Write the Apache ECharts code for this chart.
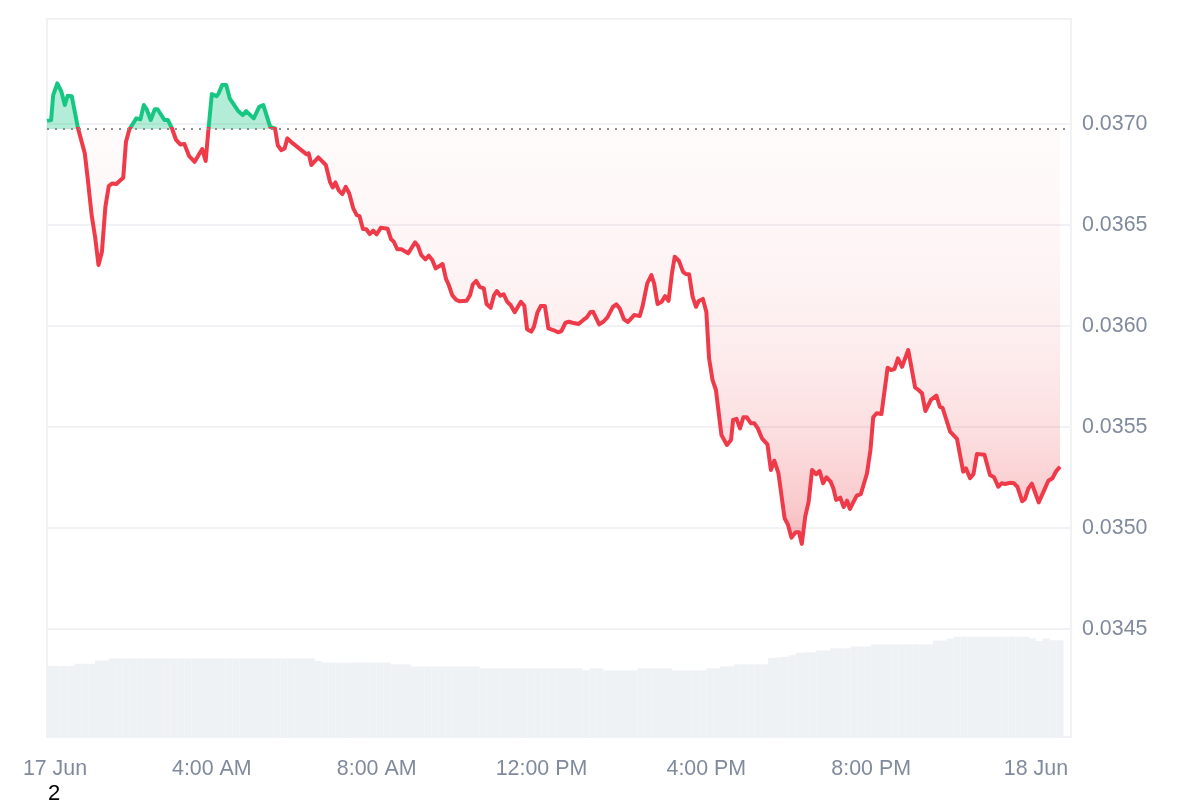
<!DOCTYPE html>
<html>
<head>
<meta charset="utf-8">
<title>Price chart</title>
<script src="https://cdn.jsdelivr.net/npm/echarts@6/dist/echarts.min.js"></script>
<style>
html,body{margin:0;padding:0;background:#fff;overflow:hidden}
#main{width:1200px;height:800px}
</style>
</head>
<body>
<div id="main"></div>
<script>
// minutes since 17 Jun 00:00
var minutes = [0,6,9,15,21,26,30,36,40,45,55,59,65,70,75,80,85,90,95,101,106,111,115,120,130,136,141,145,151,157,161,171,176,182,188,194,200,207,215,226,231,235,240,247,250,255,261,266,278,285,290,301,309,315,325,332,336,341,346,350,358,378,381,385,395,406,412,416,420,425,430,435,440,446,451,455,460,465,470,475,480,486,496,501,505,510,516,526,536,540,545,551,556,561,566,576,581,585,590,596,601,611,616,620,625,630,636,640,646,651,655,660,665,670,675,681,690,695,699,705,709,714,719,725,730,737,744,749,755,760,765,774,781,786,791,795,804,810,816,824,829,834,840,846,855,863,867,874,880,884,889,895,900,905,910,914,920,926,930,935,940,945,949,955,960,964,969,974,982,990,996,999,1004,1009,1014,1019,1025,1030,1035,1041,1049,1054,1059,1065,1074,1079,1084,1090,1095,1099,1104,1109,1114,1120,1125,1130,1135,1141,1145,1149,1155,1160,1165,1169,1179,1185,1194,1199,1203,1208,1215,1224,1229,1234,1239,1245,1254,1264,1269,1274,1279,1287,1295,1300,1304,1315,1325,1334,1338,1344,1349,1354,1365,1373,1379,1385,1390,1395,1403,1408,1413,1420,1424,1429,1434,1444,1451,1458,1464,1469,1475];
var prices = [0.037016,0.037020,0.037143,0.037201,0.037160,0.037094,0.037140,0.037138,0.037069,0.036981,0.036855,0.036739,0.036549,0.036442,0.036302,0.036368,0.036590,0.036693,0.036706,0.036703,0.036719,0.036734,0.036912,0.036974,0.037028,0.037023,0.037094,0.037074,0.037020,0.037073,0.037073,0.037020,0.037020,0.036978,0.036921,0.036899,0.036901,0.036841,0.036813,0.036876,0.036817,0.036970,0.037148,0.037138,0.037152,0.037193,0.037193,0.037127,0.037066,0.037044,0.037064,0.037028,0.037085,0.037094,0.036986,0.036978,0.036896,0.036871,0.036879,0.036929,0.036904,0.036850,0.036855,0.036797,0.036835,0.036797,0.036714,0.036686,0.036711,0.036670,0.036653,0.036689,0.036657,0.036582,0.036549,0.036544,0.036480,0.036479,0.036455,0.036472,0.036454,0.036486,0.036481,0.036429,0.036417,0.036380,0.036380,0.036360,0.036414,0.036397,0.036351,0.036330,0.036348,0.036327,0.036285,0.036307,0.036233,0.036203,0.036153,0.036129,0.036122,0.036125,0.036153,0.036206,0.036223,0.036194,0.036186,0.036109,0.036090,0.036153,0.036173,0.036150,0.036157,0.036120,0.036104,0.036068,0.036120,0.036100,0.035984,0.035972,0.035996,0.036066,0.036099,0.036099,0.035988,0.035980,0.035969,0.035975,0.036016,0.036021,0.036016,0.036010,0.036030,0.036043,0.036068,0.036071,0.036008,0.036021,0.036043,0.036095,0.036107,0.036087,0.036033,0.036020,0.036054,0.036049,0.036095,0.036211,0.036252,0.036211,0.036109,0.036120,0.036148,0.036124,0.036261,0.036343,0.036323,0.036269,0.036257,0.036256,0.036145,0.036095,0.036124,0.036134,0.036071,0.035840,0.035733,0.035683,0.035460,0.035411,0.035436,0.035535,0.035540,0.035493,0.035548,0.035548,0.035518,0.035518,0.035493,0.035444,0.035414,0.035287,0.035333,0.035271,0.035048,0.035015,0.034952,0.034979,0.034979,0.034921,0.035056,0.035130,0.035287,0.035266,0.035282,0.035221,0.035251,0.035229,0.035196,0.035139,0.035150,0.035104,0.035135,0.035094,0.035160,0.035168,0.035271,0.035386,0.035548,0.035568,0.035564,0.035793,0.035782,0.035787,0.035840,0.035798,0.035881,0.035696,0.035683,0.035667,0.035579,0.035634,0.035655,0.035600,0.035595,0.035477,0.035441,0.035279,0.035295,0.035246,0.035267,0.035366,0.035363,0.035262,0.035251,0.035204,0.035221,0.035218,0.035224,0.035221,0.035204,0.035132,0.035144,0.035196,0.035219,0.035127,0.035180,0.035234,0.035246,0.035279,0.035303];
var openPrice = 0.036975;
var openLineMinutes = [0,1484];

// volume per 10 minute bucket, arbitrary units (no scale in the picture)
var volumes = [9.9,9.9,9.9,9.9,10.2,10.2,10.2,10.65,10.65,
10.96,10.96,10.96,10.96,10.96,10.96,10.96,10.96,10.96,10.96,10.96,10.96,10.96,10.96,10.96,10.96,10.96,10.96,10.96,10.96,10.96,10.96,10.96,10.96,10.96,10.96,10.96,10.96,10.96,10.96,
10.6,10.38,10.38,10.38,10.38,10.38,10.38,10.38,10.38,10.38,10.38,10.13,10.13,10.13,
9.82,9.82,9.82,9.82,9.82,9.82,9.82,9.82,9.82,9.82,
9.57,9.57,9.57,9.57,9.57,9.57,9.57,9.57,9.57,9.57,9.57,9.57,9.57,9.57,9.57,9.3,9.57,9.57,
9.29,9.29,9.29,9.29,9.29,9.57,9.57,9.57,9.57,9.57,9.29,9.29,9.29,9.29,9.29,9.57,9.57,9.85,9.85,
10.13,10.13,10.13,10.13,10.13,11.0,11.1,11.18,11.4,11.7,11.8,11.8,12.05,12.05,12.35,12.35,12.35,12.63,12.63,12.63,
12.9,12.9,12.9,12.9,12.9,12.9,12.9,12.9,12.9,13.45,13.45,13.7,
13.97,13.97,13.97,13.97,13.97,13.97,13.97,13.97,13.97,13.97,13.97,13.73,13.37,13.73,13.47,13.47];

var xTicks = [0,240,480,720,960,1200,1440];
var xTickLabels = ['17 Jun','4:00 AM','8:00 AM','12:00 PM','4:00 PM','8:00 PM','18 Jun'];
var yTicks = [0.0345,0.035,0.0355,0.036,0.0365,0.037];

var FONT = '"Liberation Sans", Arial, sans-serif';
var LABEL_COLOR = '#808a9d';
var LINE_COLOR = '#f0f2f5';
var RED = '#ef3a49';
var GREEN = '#16c784';

var pricePoints = minutes.map(function(m, i){ return [m, prices[i]]; });
var volumePoints = volumes.map(function(v, i){ return [5 + 10 * i, v]; });
var openPoints = openLineMinutes.map(function(m){ return [m, openPrice]; });

// share of the line's height that sits above the opening price
var hi = Math.max.apply(null, prices);
var lo = Math.min.apply(null, prices);
var split = (hi - openPrice) / (hi - lo);
function below(t){ return split + (1 - split) * t; }

var myChart = echarts.init(document.getElementById('main'), null, {renderer:'canvas'});
myChart.setOption({
	animation:false,
	backgroundColor:'#fff',
	grid:{left:47,top:19,width:1024,height:718,show:true,borderColor:LINE_COLOR,borderWidth:2,containLabel:false},
	xAxis:{
		type:'value',min:0,max:1491,
		axisLine:{show:false},axisTick:{show:false},splitLine:{show:false},
		axisLabel:{
			customValues:xTicks,margin:22,color:LABEL_COLOR,fontFamily:FONT,fontSize:21.4,
			formatter:function(v){
				var text = xTickLabels[xTicks.indexOf(v)];
				return v === 0 ? '{first|' + text + '}' : text;
			},
			rich:{first:{padding:[0,0,0,16],color:LABEL_COLOR,fontFamily:FONT,fontSize:21.4}}
		}
	},
	yAxis:[{
		type:'value',position:'right',min:0.033965,max:0.03752,
		axisLine:{show:false},
		axisTick:{show:false,customValues:yTicks},
		splitLine:{show:true,lineStyle:{color:LINE_COLOR,width:2}},
		axisLabel:{
			customValues:yTicks,margin:11,color:LABEL_COLOR,fontFamily:FONT,fontSize:21.4,
			formatter:function(v){ return v.toFixed(4); }
		}
	},{
		type:'value',min:0,max:100,show:false
	}],
	series:[{
		type:'bar',yAxisIndex:1,data:volumePoints,barWidth:7,silent:true,
		itemStyle:{color:'#eff2f5'}
	},{
		type:'line',data:pricePoints,showSymbol:false,symbol:'none',smooth:false,
		lineStyle:{
			width:4,join:'round',
			color:new echarts.graphic.LinearGradient(0,0,0,1,[
				{offset:0,color:GREEN},
				{offset:split,color:GREEN},
				{offset:split,color:RED},
				{offset:1,color:RED}
			])
		},
		areaStyle:{
			origin:openPrice,
			opacity:1,
			color:new echarts.graphic.LinearGradient(0,0,0,1,[
				{offset:0,color:'rgba(22,199,132,0.32)'},
				{offset:split,color:'rgba(22,199,132,0.32)'},
				{offset:split,color:'rgba(235,60,70,0.02)'},
				{offset:below(0.29),color:'rgba(235,60,70,0.05)'},
				{offset:below(0.51),color:'rgba(235,60,70,0.09)'},
				{offset:below(0.72),color:'rgba(235,60,70,0.16)'},
				{offset:below(0.89),color:'rgba(235,60,70,0.26)'},
				{offset:1,color:'rgba(235,60,70,0.36)'}
			])
		}
	},{
		// opening price reference
		type:'line',data:openPoints,showSymbol:false,symbol:'none',silent:true,z:3,
		lineStyle:{color:'#8c8c8c',type:[2,6],width:2}
	}],
	graphic:[{
		type:'text',left:48,top:783,silent:true,
		style:{text:'2',fill:'#000',font:'22px ' + FONT}
	}]
});
</script>
</body>
</html>
